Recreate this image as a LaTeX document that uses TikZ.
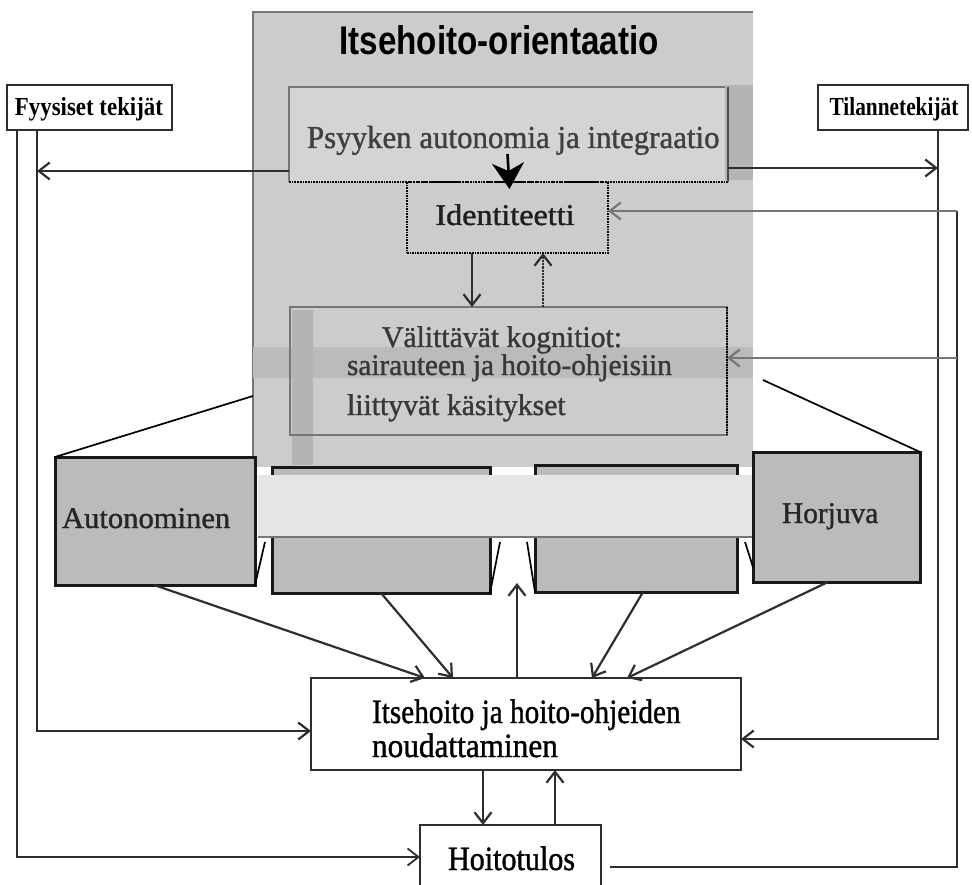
\documentclass[tikz,border=0pt]{standalone}
\usepackage{graphicx}
\usepackage{fontspec}
\setmainfont{Liberation Serif}
\newfontfamily\heavy[FakeBold=1.2]{Liberation Serif}
\newfontfamily\headfont{Liberation Sans}
\usetikzlibrary{arrows.meta,calc}

\definecolor{panelgray}{HTML}{CCCCCC}
\definecolor{innergray}{HTML}{D4D4D4}
\definecolor{bandgray}{HTML}{BBBBBB}
\definecolor{hatchgray}{HTML}{B4B4B4}
\definecolor{typegray}{HTML}{BBBBBB}
\definecolor{stripgray}{HTML}{E6E6E6}
\definecolor{ink}{HTML}{2E2E2E}
\definecolor{softink}{HTML}{767676}

\newcommand\setsz[1]{\fontsize{#1}{#1}\selectfont}

\begin{document}
\begin{tikzpicture}[x=1pt,y=-1pt,
  every node/.style={inner sep=0pt,outer sep=0pt},
  frame/.style={anchor=north west},
  typebox/.style={frame,draw=black!90,line width=3pt,fill=typegray},
  plainbox/.style={frame,draw=ink,line width=2pt,fill=white},
  lbl/.style={anchor=base west,font=\heavy},
  clbl/.style={anchor=base,font=\heavy},
  conn/.style={draw=ink,line width=2.2pt},
  arr/.style={conn,-{Straight Barb[length=11pt,width=17pt]}},
  fan/.style={draw=black,line width=1.7pt},
]
\useasboundingbox (0,0) rectangle (972,885);
\clip (0,0) rectangle (972,885);

% ---- orientation panel with its inner layers ----
\node[frame,fill=panelgray,minimum width=500pt,minimum height=455pt] (orient) at (253,12) {};
\draw[softink,line width=1.6pt] (orient.south west) -- (orient.north west) -- (orient.north east);
\fill[bandgray] (253,347) rectangle (753,378);

\node[frame,fill=innergray,minimum width=439pt,minimum height=95pt] (psy) at (289,87) {};
\draw[softink,line width=1.4pt] (psy.south west) -- (psy.north west) -- (psy.north east);
\draw[black,line width=1.7pt,densely dotted] (psy.south west) -- (psy.south east);
\fill[hatchgray] (725,85) rectangle (753,180);
\draw[gray!60!black,line width=2.4pt] (psy.north east) -- (psy.south east);

\node[frame,draw=black,densely dotted,line width=1.6pt,minimum width=201pt,minimum height=71pt] (ident) at (407,182) {};

\fill[hatchgray] (292,310) rectangle (313,465);
\node[frame,draw=softink,line width=1.6pt,minimum width=437pt,minimum height=128pt] (valit) at (290,307) {};
\draw[black,line width=1.6pt,densely dotted] (valit.north east) -- (valit.south east);

% ---- titles and labels in the panel ----
\node[anchor=base] (otitle) at (499,55) {\headfont\bfseries\setsz{40}\scalebox{0.83}[1]{Itsehoito-orientaatio}};
\node[lbl,text=black!75] (psytext) at (307,148) {\setsz{32}\scalebox{0.965}[1]{Psyyken autonomia ja integraatio}};
\node[clbl,text=black!88] (identtext) at (505,225) {\setsz{30}\scalebox{1.07}[1]{Identiteetti}};
\node[clbl,text=black!78] (valit1) at (502,347) {\setsz{30}\scalebox{0.99}[1]{Välittävät kognitiot:}};
\node[lbl,text=black!78] (valit2) at (347,375) {\setsz{30}\scalebox{0.975}[1]{sairauteen ja hoito-ohjeisiin}};
\node[lbl,text=black!78] (valit3) at (347,415) {\setsz{30}\scalebox{0.99}[1]{liittyvät käsitykset}};

% ---- arrows inside the panel ----
\draw[line width=2.6pt,black,-{Stealth[length=26pt,width=32pt,inset=8pt]}]
  ($(psy.south)+(-1,-28)$) -- ($(ident.north)+(2,7)$);
\coordinate (idDown) at ($(ident.south west)+(65,0)$);
\coordinate (idUp) at ($(ident.south west)+(136,0)$);
\draw[arr] (idDown) -- (idDown |- valit.north);
\draw[arr,densely dotted] (idUp |- valit.north) -- (idUp);

% ---- the four type boxes ----
\node[typebox,minimum width=200pt,minimum height=128pt] (auto) at (55,457) {};
\node[typebox,minimum width=218pt,minimum height=126pt] (mid1) at (272,467) {};
\node[typebox,minimum width=202pt,minimum height=127pt] (mid2) at (535,465) {};
\node[typebox,minimum width=167pt,minimum height=130pt] (horj) at (753,452) {};

\draw[fan] (auto.north west) -- ($(orient.north west)+(0,384)$);
\draw[fan] (horj.north east) -- ($(orient.north east)+(10,368)$);
\draw[fan] (auto.south east) -- ($(auto.south east)+(10,-43)$);
\draw[fan] (mid1.south east) -- ($(mid1.south east)+(10,-51)$);
\draw[fan] (mid2.south west) -- ($(mid2.south west)+(-8,-50)$);
\draw[fan] ($(horj.south west)+(0,-15)$) -- ($(horj.south west)+(-8,-40)$);

\node[frame,fill=stripgray,minimum width=494pt,minimum height=62pt] (strip) at (258,475) {};
\draw[softink,line width=1.8pt] (strip.south west) -- (strip.south east);

\node[lbl,text=black!85] (autotext) at (62,528) {\setsz{30}\scalebox{1.02}[1]{Autonominen}};
\node[lbl,text=black!85] (horjtext) at (782,523) {\setsz{30}\scalebox{0.98}[1]{Horjuva}};

% ---- factor boxes ----
\node[plainbox,line width=1.7pt,minimum width=165pt,minimum height=45pt] (fyys) at (7,85) {};
\node[anchor=base] (fyystext) at (89,116) {\bfseries\setsz{26}\scalebox{0.88}[1]{Fyysiset tekijät}};
\node[plainbox,line width=1.7pt,minimum width=150pt,minimum height=45pt] (tila) at (818,85) {};
\node[anchor=base] (tilatext) at (894,116) {\bfseries\setsz{26}\scalebox{0.82}[1]{Tilannetekijät}};

% ---- self-care and outcome ----
\node[plainbox,minimum width=430pt,minimum height=92pt] (care) at (311,678) {};
\node[lbl] (care1) at (372,723) {\setsz{34}\scalebox{0.86}[1]{Itsehoito ja hoito-ohjeiden}};
\node[lbl] (care2) at (372,757) {\setsz{34}\scalebox{0.92}[1]{noudattaminen}};
\node[plainbox,minimum width=181pt,minimum height=80pt] (hoito) at (420,825) {};
\node[lbl] (hoitotext) at (448,870) {\setsz{34}\scalebox{0.885}[1]{Hoitotulos}};

% ---- connectors ----
\draw[arr] ($(auto.south west)+(99,0)$) -- ($(care.north west)+(114,0)$);
\draw[arr] ($(mid1.south west)+(109,0)$) -- ($(care.north west)+(142,0)$);
\coordinate (gapTip) at ($(care.north west)+(206,-95)$);
\draw[arr] ($(care.north west)+(206,0)$) -- (gapTip);
\draw[arr] ($(mid2.south west)+(108,0)$) -- ($(care.north west)+(281,0)$);
\draw[arr] ($(horj.south west)+(75,0)$) -- ($(care.north west)+(316,0)$);

\coordinate (cd) at ($(care.south west)+(172,0)$);
\coordinate (cu) at ($(care.south west)+(244,0)$);
\draw[arr] (cd) -- (cd |- hoito.north);
\draw[arr] (cu |- hoito.north) -- (cu);

% left side
\coordinate (fA) at ($(fyys.south west)+(30,0)$);
\coordinate (fB) at ($(fyys.south west)+(10,0)$);
\coordinate (psyL) at ($(psy.south west)+(0,-11)$);
\draw[arr] (psyL) -- (fA |- psyL);
\draw[arr] (fA) |- ($(care.north west)+(0,53)$);
\draw[arr,line width=1.8pt] (fB) |- ($(hoito.north west)+(0,32)$);

% right side
\coordinate (tA) at ($(tila.south west)+(120,0)$);
\coordinate (psyR) at ($(psy.north east)+(0,81)$);
\draw[arr] (psyR) -- (tA |- psyR);
\draw[arr] (tA) |- ($(care.north east)+(0,61)$);

% outcome feedback
\coordinate (fbStart) at ($(hoito.north east)+(9,42)$);
\coordinate (identIn) at ($(ident.north east)+(0,29)$);
\coordinate (fbCorner) at ($(identIn)+(349,0)$);
\coordinate (valitIn) at ($(valit.north east)+(0,51)$);
\draw[conn] (fbStart) -| (fbCorner);
\draw[arr,draw=softink] (fbCorner) -- (identIn);
\draw[arr,draw=softink] (fbCorner |- valitIn) -- (valitIn);
\end{tikzpicture}
\end{document}
